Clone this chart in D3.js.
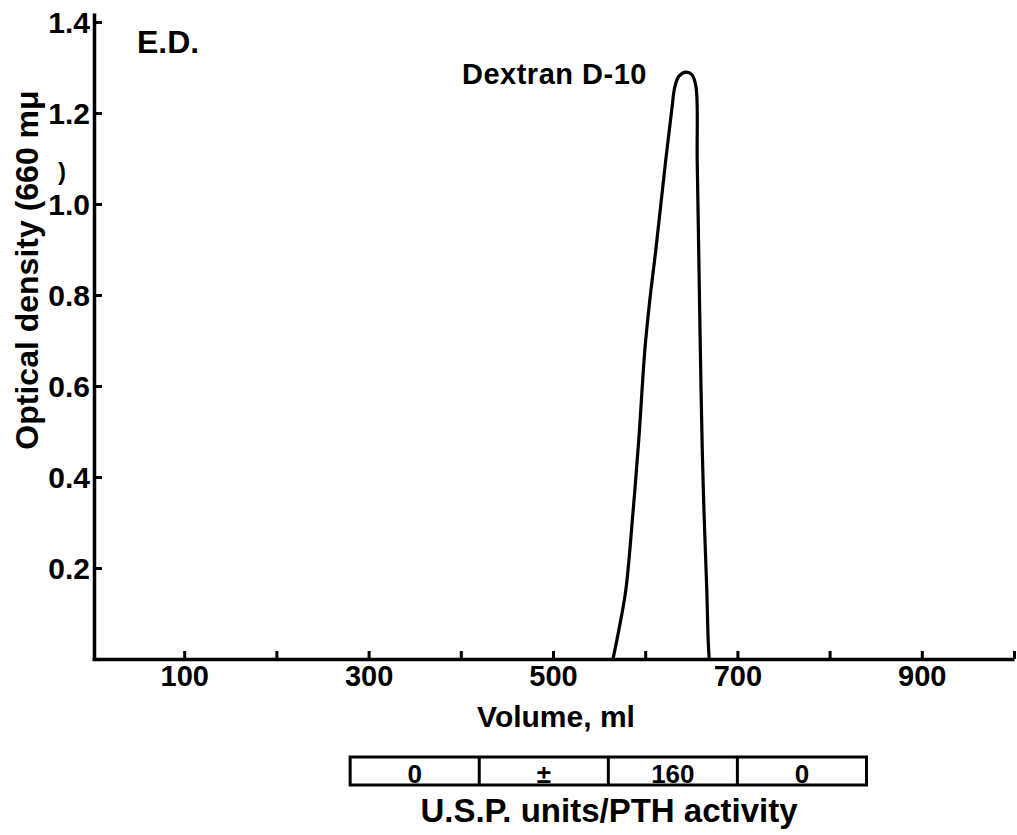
<!DOCTYPE html>
<html><head><meta charset="utf-8">
<script src="https://cdn.jsdelivr.net/npm/d3@7"></script>
<style>
html,body{margin:0;padding:0;background:#fff;}
svg text{font-family:"Liberation Sans",Arial,sans-serif;font-weight:bold;fill:#000;}
</style></head><body>
<svg id="c" width="1017" height="835"></svg>
<script>
// data
const volume = [565, 566, 572, 579, 586.5, 593, 599.6, 605, 611.5, 622.3, 628.8, 632.1, 636.6, 644.2, 650.7, 655.1, 656.4, 658.2, 659.8, 661.9, 663.9, 666.8, 668.3, 669.4];
const density = [0, 0.009, 0.07, 0.152, 0.316, 0.481, 0.679, 0.789, 0.899, 1.097, 1.207, 1.257, 1.281, 1.29, 1.284, 1.257, 1.097, 0.877, 0.679, 0.459, 0.316, 0.152, 0.042, 0];
const xTicks = [100, 200, 300, 400, 500, 600, 700, 800, 900, 1000];
const xLabeled = [100, 300, 500, 700, 900];
const yTicks = [0.2, 0.4, 0.6, 0.8, 1.0, 1.2, 1.4];
const fractionEdges = [280, 420, 560, 700, 840];
const fractionActivity = ["0", "\u00b1", "160", "0"];

const svg = d3.select("#c");
const x = d3.scaleLinear().domain([0, 1000]).range([92, 1014]);
const y = d3.scaleLinear().domain([0, 1.42]).range([659, 659 - 1.42 * 455]);

const xAxis = d3.axisBottom(x).tickValues(xTicks).tickSizeInner(-8).tickSizeOuter(0).tickPadding(9)
  .tickFormat(d => xLabeled.includes(d) ? d : "");
const gx = svg.append("g").attr("transform", `translate(0,${y(0)})`).call(xAxis);
gx.select(".domain").attr("stroke-width", 3.5);
gx.selectAll(".tick line").attr("stroke-width", 3);
gx.selectAll(".tick text").attr("font-size", 29).attr("dy", "0.62em");

const yAxis = d3.axisLeft(y).tickValues(yTicks).tickSizeInner(-8).tickSizeOuter(0).tickPadding(4)
  .tickFormat(d3.format(".1f"));
const gy = svg.append("g").attr("transform", `translate(${x(0) + 2},0)`).call(yAxis);
gy.select(".domain").attr("stroke-width", 3.5);
gy.selectAll(".tick line").attr("stroke-width", 3);
gy.selectAll(".tick text").attr("font-size", 30).attr("dy", "0.36em");

// peak curve
const pts = volume.map((v, i) => [v, density[i]]);
svg.append("path").datum(pts)
  .attr("fill", "none").attr("stroke", "#000").attr("stroke-width", 3.2)
  .attr("stroke-linejoin", "round")
  .attr("d", d3.line().x(d => x(d[0])).y(d => y(d[1])).curve(d3.curveCatmullRom.alpha(0.5)));

// annotations
svg.append("text").attr("x", 137).attr("y", 53).attr("font-size", 32).text("E.D.");
svg.append("text").attr("x", 462).attr("y", 84).attr("font-size", 29).attr("letter-spacing", 0.5).text("Dextran D-10");

// axis titles
svg.append("text").attr("transform", "translate(38,270) rotate(-90)").attr("text-anchor", "middle")
  .attr("font-size", 32).text("Optical density (660 m\u03bc");
svg.append("text").attr("x", 58).attr("y", 180).attr("font-size", 24).text(")");
svg.append("text").attr("x", 556).attr("y", 727).attr("text-anchor", "middle").attr("font-size", 30).text("Volume, ml");

// activity fractions bar
const bt = 757, bb = 785;
const fr = svg.append("g");
fr.append("rect").attr("x", x(fractionEdges[0])).attr("y", bt)
  .attr("width", x(fractionEdges[fractionEdges.length - 1]) - x(fractionEdges[0])).attr("height", bb - bt)
  .attr("fill", "none").attr("stroke", "#000").attr("stroke-width", 3);
fractionEdges.slice(1, -1).forEach(e => {
  fr.append("line").attr("x1", x(e)).attr("x2", x(e)).attr("y1", bt).attr("y2", bb)
    .attr("stroke", "#000").attr("stroke-width", 3);
});
fractionActivity.forEach((t, i) => {
  fr.append("text").attr("x", (x(fractionEdges[i]) + x(fractionEdges[i + 1])) / 2).attr("y", bb - 2)
    .attr("text-anchor", "middle").attr("font-size", 26).text(t);
});
svg.append("text").attr("x", 609).attr("y", 822).attr("text-anchor", "middle").attr("font-size", 33)
  .text("U.S.P. units/PTH activity");
</script>
</body></html>
